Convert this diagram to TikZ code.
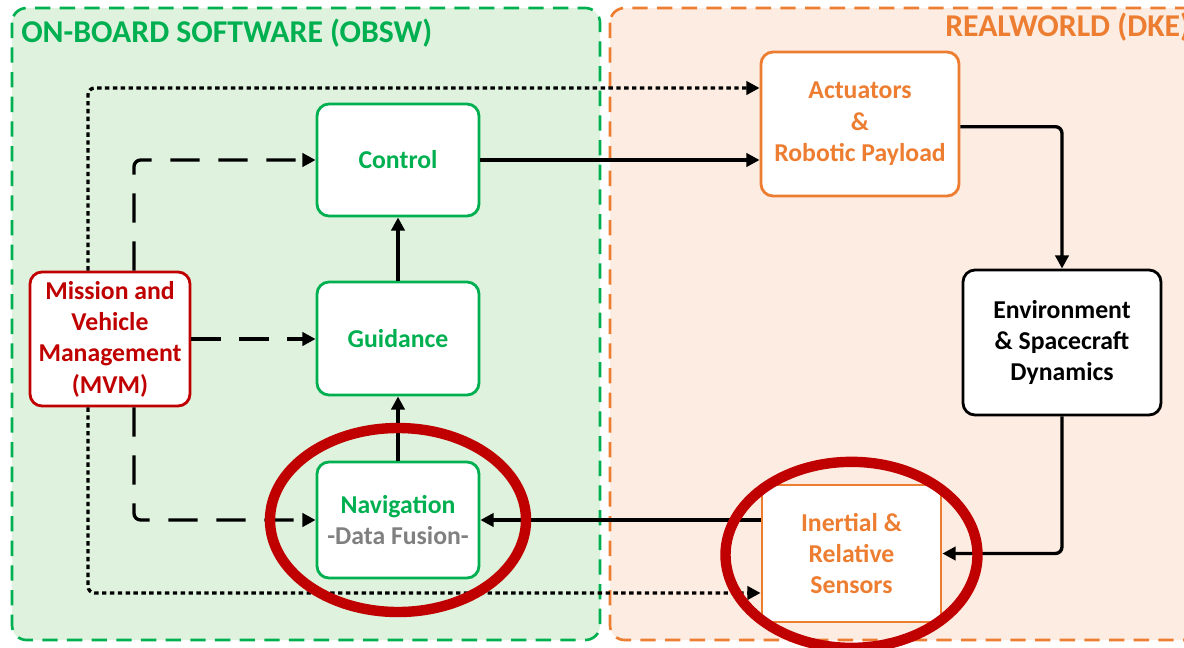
\documentclass[tikz,border=0pt]{standalone}
\usepackage{fontspec}
\setmainfont{Carlito}
\usetikzlibrary{arrows.meta}
\definecolor{obswgreen}{HTML}{00B050}
\definecolor{obswfill}{HTML}{DEF2DD}
\definecolor{dkeorange}{HTML}{ED7D31}
\definecolor{dkefill}{HTML}{FCECE1}
\definecolor{mvmred}{HTML}{C00000}
\definecolor{fusiongray}{HTML}{808080}
\tikzset{
  region/.style={line width=2pt, dash pattern=on 11.5pt off 7pt, rounded corners=11pt},
  blockbox/.style={draw, fill=white, line width=2.1pt, rounded corners=9pt, align=center,
    font=\fontsize{19.3}{23.5}\selectfont\bfseries, inner sep=0pt},
  greenbox/.style={blockbox, draw=obswgreen, text=obswgreen,
    minimum width=121.5pt},
  orangebox/.style={blockbox, draw=dkeorange, text=dkeorange},
  conn/.style={line width=2.5pt, rounded corners=5pt, -{Triangle[length=10pt,width=10pt]}},
  dashedconn/.style={conn, dash pattern=on 22pt off 14pt},
  dottedconn/.style={conn, dash pattern=on 3.3pt off 2.6pt},
  focusring/.style={draw=mvmred, line width=7.8pt},
  regiontitle/.style={font=\fontsize{23.8}{28}\selectfont\bfseries, inner sep=0pt}
}
\begin{document}
\begin{tikzpicture}[x=0.75pt, y=-0.75pt]
\useasboundingbox (0,0) rectangle (1184,647);

% software and real-world regions
\draw[region, draw=dkeorange, fill=dkefill] (610,8) rectangle (1210,640);
\draw[region, draw=obswgreen, fill=obswfill] (12,8) rectangle (600,640);
\node[regiontitle, text=obswgreen, anchor=west] (obswtitle) at (21,33) {ON-BOARD SOFTWARE (OBSW)};
\node[regiontitle, text=dkeorange, anchor=west] (dketitle) at (945,27) {REALWORLD (DKE)};

% blocks
\node[greenbox, minimum height=84pt] (ctl) at (398,160) {Control};
\node[greenbox, minimum height=84.75pt] (gui) at (398,338.5) {Guidance};
\node[greenbox, minimum height=87pt] (nav) at (398,520)
  {Navigation\\{\color{fusiongray}-Data Fusion-}};
\node[blockbox, draw=mvmred, text=mvmred, minimum width=120pt, minimum height=100.5pt]
  (mvm) at (110,339) {Mission and\\Vehicle\\Management\\(MVM)};
\node[orangebox, minimum width=148.5pt, minimum height=108pt] (act) at (860,124)
  {Actuators\\\&\\Robotic Payload};
\node[blockbox, draw=black, text=black, minimum width=148.5pt, minimum height=108.75pt]
  (env) at (1062,342.5) {Environment\\\& Spacecraft\\Dynamics};
\node[orangebox, rounded corners=0pt, minimum width=134.25pt, minimum height=102.75pt]
  (sen) at (851.5,553.5) {Inertial \&\\Relative\\Sensors};

% commands from mission and vehicle management
\draw[dottedconn] ([xshift=-16.5pt]mvm.north) |- ([yshift=27pt]act.west);
\draw[dottedconn] ([xshift=-16.5pt]mvm.south) |- ([yshift=-29.6pt]sen.west);
\draw[dashedconn] ([xshift=18pt]mvm.north) |- (ctl.west);
\draw[dashedconn] (mvm.east) -- (mvm.east -| gui.west);
\draw[dashedconn] ([xshift=18pt]mvm.south) |- (nav.west);

% GNC loop
\draw[conn] (nav.north) -- (gui.south);
\draw[conn] (gui.north) -- (ctl.south);
\draw[conn] (ctl.east) -- (ctl.east -| act.west);
\draw[conn] ([yshift=-2pt]act.east) -| (env.north);
\draw[conn] (env.south) |- (sen.east);
\draw[conn] (sen.west |- nav.east) -- (nav.east);

% highlighted blocks
\draw[focusring] (nav.center) ellipse [x radius=128, y radius=92];
\draw[focusring] ([yshift=-1pt]sen.center) ellipse [x radius=126, y radius=93];
\end{tikzpicture}
\end{document}
